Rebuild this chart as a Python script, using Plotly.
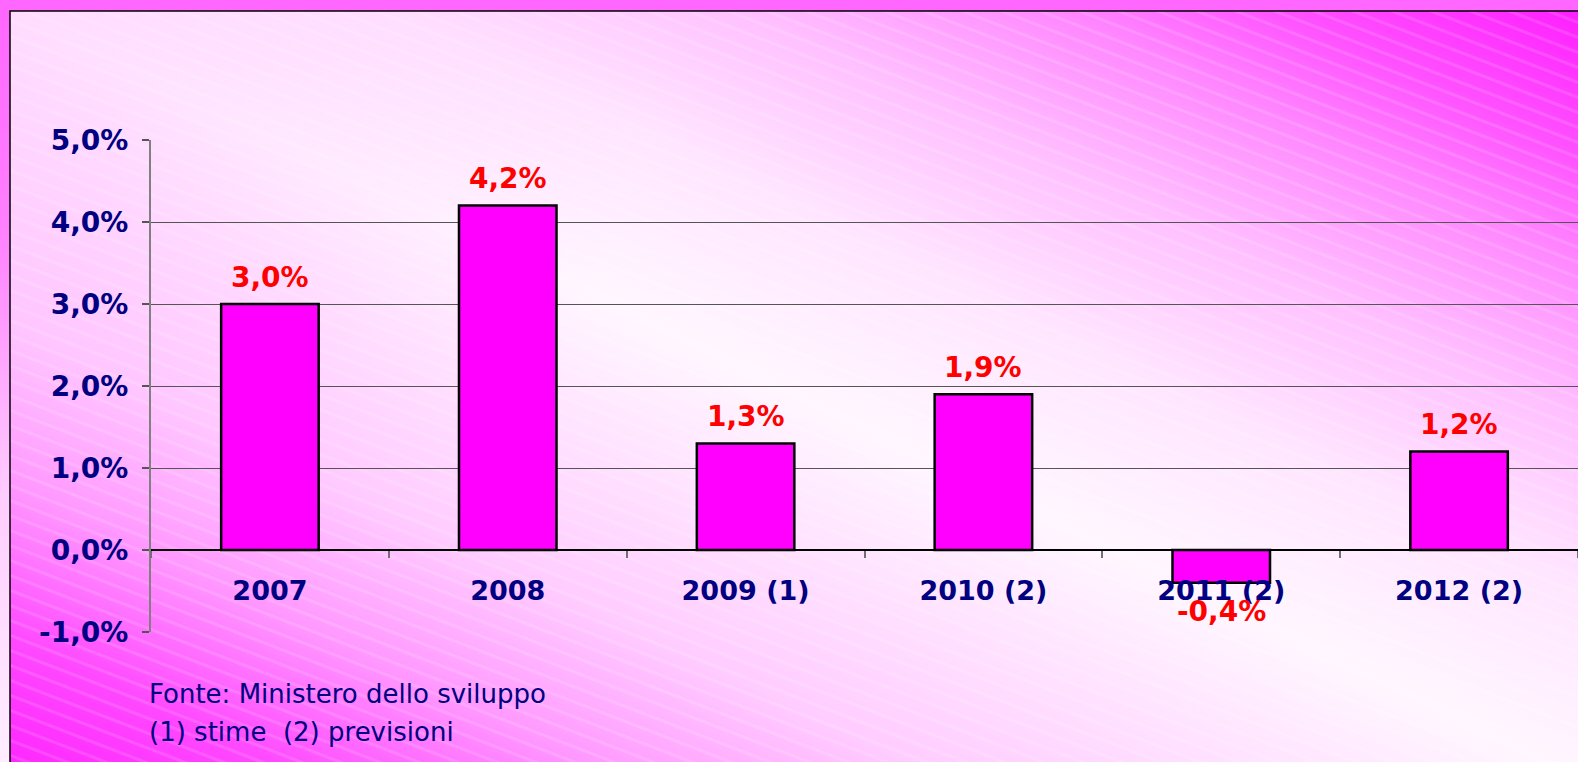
import base64
import plotly.graph_objects as go

# ---- data ----
categories = ["2007", "2008", "2009 (1)", "2010 (2)", "2011 (2)", "2012 (2)"]
values = [3.0, 4.2, 1.3, 1.9, -0.4, 1.2]
y_tick_vals = [-1, 0, 1, 2, 3, 4, 5]
y_tick_text = ["-1,0%", "0,0%", "1,0%", "2,0%", "3,0%", "4,0%", "5,0%"]
footnote_lines = ["Fonte: Ministero dello sviluppo", "(1) stime  (2) previsioni"]

W, H = 1578, 762
ML, MR, MT, MB = 151, 0, 140, 130
PW, PH = W - ML - MR, H - MT - MB
YMIN, YMAX = -1, 5

NAVY = "#000080"
FONT = "DejaVu Sans"

# ---- background (gradient + stripes) as an SVG image ----
svg = f'''<svg xmlns="http://www.w3.org/2000/svg" width="{W}" height="{H}" viewBox="0 0 {W} {H}">
<defs>
<linearGradient id="outer" x1="0" y1="0" x2="0" y2="1">
<stop offset="0" stop-color="#FF66FF"/>
<stop offset="0.3" stop-color="#FF80FF"/>
<stop offset="0.65" stop-color="#FFCCFF"/>
<stop offset="1" stop-color="#FFEEFF"/>
</linearGradient>
<linearGradient id="inner" x1="0" y1="1" x2="1" y2="0">
<stop offset="0" stop-color="#FF20FF"/>
<stop offset="0.1" stop-color="#FF48FF"/>
<stop offset="0.2" stop-color="#FF98FF"/>
<stop offset="0.3" stop-color="#FFCCFF"/>
<stop offset="0.5" stop-color="#FFF6FF"/>
<stop offset="0.62" stop-color="#FFE6FF"/>
<stop offset="0.73" stop-color="#FFC0FF"/>
<stop offset="0.83" stop-color="#FF86FF"/>
<stop offset="0.9" stop-color="#FF50FF"/>
<stop offset="1" stop-color="#FF1AFF"/>
</linearGradient>
<radialGradient id="tl" cx="10" cy="11" r="650" gradientUnits="userSpaceOnUse">
<stop offset="0" stop-color="#FF99FF" stop-opacity="0.28"/>
<stop offset="1" stop-color="#FF99FF" stop-opacity="0"/>
</radialGradient>
<pattern id="st" width="14" height="14" patternUnits="userSpaceOnUse" patternTransform="rotate(21)">
<rect width="14" height="3" fill="#FFFFFF" fill-opacity="0.13"/>
</pattern>
</defs>
<rect width="{W}" height="{H}" fill="url(#outer)"/>
<rect x="10" y="11" width="{W+20}" height="{H+20}" fill="url(#inner)"/>
<rect x="10" y="11" width="{W+20}" height="{H+20}" fill="url(#tl)"/>
<rect x="10" y="11" width="{W+20}" height="{H+20}" fill="url(#st)" stroke="#000000" stroke-width="1.5"/>
</svg>'''
bg_src = "data:image/svg+xml;base64," + base64.b64encode(svg.encode()).decode()

fig = go.Figure()
fig.add_trace(go.Bar(
    x=categories, y=values,
    marker=dict(color="#FF00FF", line=dict(color="#000000", width=2.5)),
    hoverinfo="skip",
))

# data labels (x given as category index)
for i, v in enumerate(values):
    txt = f"{v:.1f}".replace(".", ",") + "%"
    fig.add_annotation(
        x=i, y=v, xref="x", yref="y", text=txt, showarrow=False,
        yanchor="middle", yshift=27 if v >= 0 else -29,
        font=dict(family=FONT, size=28, color="#FF0000", weight="bold"),
    )

# footnote
for i, line in enumerate(footnote_lines):
    ypx = 694 + 38 * i
    fig.add_annotation(
        x=(147 - ML) / PW, y=(H - MB - ypx) / PH, xref="paper", yref="paper",
        text=line, showarrow=False, xanchor="left", yanchor="middle",
        font=dict(family=FONT, size=26, color=NAVY),
    )

fig.add_layout_image(
    source=bg_src, xref="paper", yref="paper",
    x=-ML / PW, y=1 + MT / PH, sizex=W / PW, sizey=H / PH,
    xanchor="left", yanchor="top", sizing="stretch", layer="below",
)

fig.update_layout(
    width=W, height=H,
    margin=dict(l=ML, r=MR, t=MT, b=MB, pad=0),
    paper_bgcolor="rgba(0,0,0,0)", plot_bgcolor="rgba(0,0,0,0)",
    showlegend=False, bargap=0.59,
    xaxis=dict(
        type="category", range=[-0.5, len(categories) - 0.5],
        anchor="free", position=(0 - YMIN) / (YMAX - YMIN),
        showline=True, linecolor="#000000", linewidth=1.5,
        ticks="outside", tickson="boundaries", ticklen=7, tickwidth=1.5, tickcolor="#707070",
        showgrid=False, ticklabelstandoff=17, tickangle=0,
        tickfont=dict(family=FONT, size=27, color=NAVY, weight="bold"),
        fixedrange=True,
    ),
    yaxis=dict(
        range=[YMIN, YMAX], tickvals=y_tick_vals, ticktext=y_tick_text,
        showgrid=True, gridcolor="#555555", gridwidth=1,
        showline=True, linecolor="#808080", linewidth=2,
        ticks="outside", ticklen=7, tickwidth=1.5, tickcolor="#555555",
        zeroline=False, ticklabelstandoff=8,
        tickfont=dict(family=FONT, size=28, color=NAVY, weight="bold"),
        fixedrange=True,
    ),
)

fig.write_html(
    "out.html",
    config={"displayModeBar": False},
    post_script="document.body.style.margin='0';document.body.style.overflow='hidden';",
)
